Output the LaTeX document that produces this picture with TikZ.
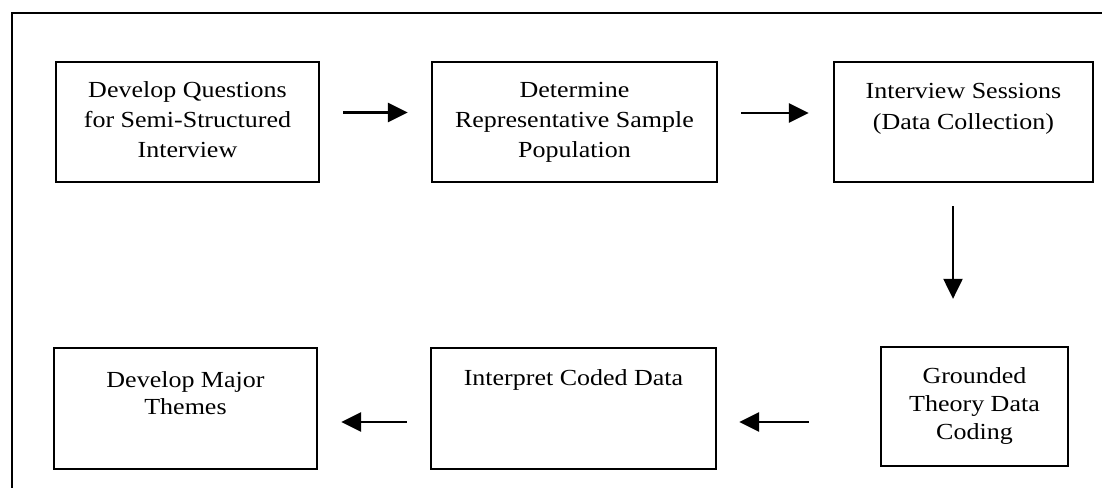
\documentclass[tikz,border=0pt]{standalone}
\usepackage{fontspec}
\setmainfont[FakeStretch=1.13]{Liberation Serif}
\usetikzlibrary{arrows.meta}
\tikzset{
  stepbox/.style={draw=black, line width=2.3pt, inner sep=0pt, fill=white},
  arr/.style={line width=2.8pt, -{Triangle[length=20pt,width=19pt]}},
  frame/.style={line width=2.6pt}
}
\newcommand\bxtext[5]{\parbox[c][#1pt][t]{#2pt}{\centering\fontsize{23}{#4}\selectfont\rule{0pt}{#3pt}#5}}
\begin{document}
\begin{tikzpicture}[x=1pt,y=-1pt]
\useasboundingbox (0,0) rectangle (1102,487);
\fill[white] (0,0) rectangle (1102,487);
\coordinate (fa) at (12,490);
\coordinate (fb) at (12,13);
\coordinate (fc) at (1105,13);
\draw[frame] (fa) -- (fb) -- (fc);

\node[stepbox] (b1) at (187.5,122) {\bxtext{120}{263}{35}{30}{Develop Questions\\for Semi-Structured\\Interview}};
\node[stepbox] (b2) at (574.5,122) {\bxtext{120}{285}{35}{30}{Determine\\Representative Sample\\Population}};
\node[stepbox] (b3) at (963.5,122) {\bxtext{120}{259}{36}{31}{Interview Sessions\\(Data Collection)}};
\node[stepbox] (b4) at (974.5,406.5) {\bxtext{119}{187}{36}{28}{Grounded\\Theory Data\\Coding}};
\node[stepbox] (b5) at (573.5,408.5) {\bxtext{121}{285}{37}{28}{Interpret Coded Data}};
\node[stepbox] (b6) at (185.5,408.5) {\bxtext{121}{263}{39}{27}{Develop Major\\Themes}};

\draw[arr, shorten <=23pt, shorten >=23pt] ([yshift=9.5pt]b1.east) -- ([yshift=9.5pt]b1.east -| b2.west);
\draw[arr, shorten <=23pt, shorten >=24pt] ([yshift=9pt]b2.east) -- ([yshift=9pt]b2.east -| b3.west);
\draw[arr, line width=2.2pt, shorten <=23pt, shorten >=47pt] ([xshift=-10.5pt]b3.south) -- ([xshift=-10.5pt]b3.south |- b4.north);
\draw[arr, shorten <=71pt, shorten >=22pt] ([yshift=-15.5pt]b4.west) -- ([yshift=-15.5pt]b4.west -| b5.east);
\draw[arr, shorten <=23pt, shorten >=23pt] ([yshift=-13.5pt]b5.west) -- ([yshift=-13.5pt]b5.west -| b6.east);
\end{tikzpicture}
\end{document}
